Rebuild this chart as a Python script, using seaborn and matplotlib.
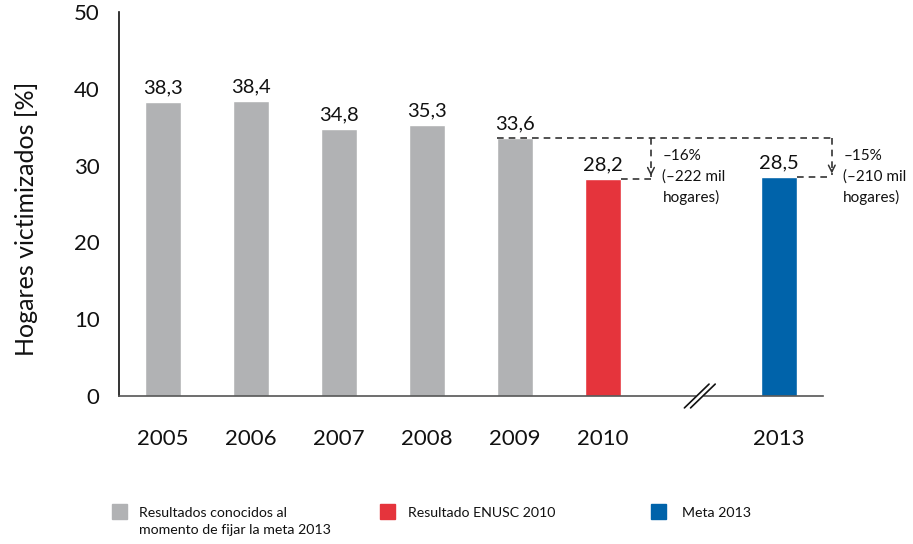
import numpy as np
import pandas as pd
import matplotlib.pyplot as plt
import seaborn as sns
from matplotlib.patches import Rectangle

sns.set_theme(style="white")
plt.rcParams['font.family'] = ['Lato', 'DejaVu Sans']

# data
years = ["2005", "2006", "2007", "2008", "2009", "2010", "2013"]
values = [38.3, 38.4, 34.8, 35.3, 33.6, 28.2, 28.5]
groups = ["conocidos"] * 5 + ["enusc", "meta"]
slots = ["2005", "2006", "2007", "2008", "2009", "2010", "gap", "2013"]
group_colors = {"conocidos": "#B1B2B4", "enusc": "#E5343C", "meta": "#0063AA"}
legend_labels = {
    "conocidos": "Resultados conocidos al\nmomento de fijar la meta 2013",
    "enusc": "Resultado ENUSC 2010",
    "meta": "Meta 2013",
}
notes = ["\u201316%\n(\u2013222 mil\nhogares)", "\u201315%\n(\u2013210 mil\nhogares)"]

df = pd.DataFrame({"year": years, "value": values, "group": groups})

W, H = 913, 544
fig = plt.figure(figsize=(W / 100, H / 100), dpi=100)
ax = fig.add_axes([119 / W, 1 - 396 / H, 704 / W, 384 / H])

bw = 0.41
sns.barplot(data=df, x="year", y="value", hue="group", order=slots,
            palette=group_colors, dodge=False, width=bw, legend=False, ax=ax,
            saturation=1)

# value labels
for c in ax.containers:
    labs = [f"{v:.1f}".replace(".", ",") if not np.isnan(v) else "" for v in c.datavalues]
    ax.bar_label(c, labels=labs, fontsize=14.5, padding=4, color="#111111")

ax.set_xlim(-0.5, len(slots) - 0.5)
ax.set_ylim(0, 50)
ax.set_yticks(range(0, 51, 10))
ax.set_xticks(range(len(slots)))
ax.set_xticklabels([s if s != "gap" else "" for s in slots], fontsize=16, color="#111111")
ax.set_xticks(np.arange(-0.5, len(slots), 1), minor=True)
ax.tick_params(axis="x", which="major", length=0, pad=24)
ax.tick_params(axis="x", which="minor", length=8, width=1.2, color="#999999", direction="out")
ax.tick_params(axis="y", length=9, width=1.2, color="#999999", direction="out",
               labelsize=16, labelcolor="#111111", pad=5)
ax.set_xlabel("")
ax.set_ylabel("Hogares victimizados [%]", fontsize=18, color="#111111")
ax.yaxis.set_label_coords(-0.115, 0.46)

for s in ["top", "right"]:
    ax.spines[s].set_visible(False)
ax.spines["left"].set_color("#111111")
ax.spines["bottom"].set_color("#555555")
ax.spines["left"].set_linewidth(1.2)
ax.spines["bottom"].set_linewidth(1.2)

# axis break marks
gx = slots.index("gap") + 0.1
trans = ax.get_xaxis_transform()
ax.fill([gx - 0.1, gx + 0.03, gx + 0.1, gx - 0.03], [-0.03, 0.03, 0.03, -0.03],
        color="white", transform=trans, clip_on=False, zorder=5)
for off in (-0.035, 0.035):
    ax.plot([gx + off - 0.14, gx + off + 0.14], [-0.031, 0.031], color="#111111",
            lw=1.2, transform=trans, clip_on=False, zorder=6)

# dashed comparison lines
dash = dict(color="#333333", lw=1.2, linestyle=(0, (4, 3)), clip_on=False)
y_ref = values[years.index("2009")]
x_start = slots.index("2009") - bw / 2
arrow_x = [slots.index("2010") + 0.545, slots.index("2013") + 0.6]
targets = ["2010", "2013"]
ax.plot([x_start, arrow_x[-1]], [y_ref, y_ref], **dash)
for xa, t, note in zip(arrow_x, targets, notes):
    yt = values[years.index(t)]
    xi = slots.index(t)
    ax.plot([xi + bw / 2, xa], [yt, yt], **dash)
    ax.plot([xa, xa], [y_ref, yt + 0.3], **dash)
    ax.annotate("", xy=(xa, yt + 0.1), xytext=(xa, yt + 1.3),
                arrowprops=dict(arrowstyle="->", color="#333333", lw=1.1,
                                mutation_scale=12), annotation_clip=False)
    ax.text(xa + 0.13, 32.1, note, ha="left", va="top", fontsize=11,
            linespacing=1.5, color="#111111", clip_on=False)

# legend (handles aligned with the first line of each label)
box_x = [112, 380, 651]
text_x = [139, 408, 682]
for g, bx, tx in zip(["conocidos", "enusc", "meta"], box_x, text_x):
    fig.add_artist(Rectangle((bx / W, 1 - 519 / H), 15 / W, 15 / H,
                             transform=fig.transFigure, color=group_colors[g]))
    fig.text(tx / W, 1 - 507 / H, legend_labels[g], ha="left", va="top",
             fontsize=10.2, linespacing=1.45, color="#111111")

fig.savefig("out.png", dpi=100)
